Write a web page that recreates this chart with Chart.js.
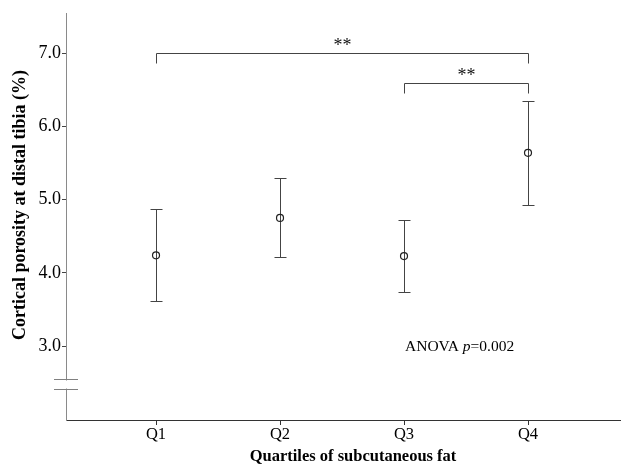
<!DOCTYPE html>
<html>
<head>
<meta charset="utf-8">
<script src="https://cdn.jsdelivr.net/npm/chart.js@4"></script>
<style>
html,body{margin:0;padding:0;background:#fff}
</style>
</head>
<body>
<canvas id="myChart" width="621" height="466"></canvas>
<script>
// data
const QUARTILES = ['Q1', 'Q2', 'Q3', 'Q4']
const QUARTILE_POS = [1, 2, 3, 4]
const MEANS = [4.24, 4.75, 4.23, 5.64]
const UPPER = [4.87, 5.29, 4.72, 6.35]
const LOWER = [3.61, 4.21, 3.74, 4.93]
const Y_TICKS = [3, 4, 5, 6, 7]
// significance brackets: from, to, level, mark
const BRACKET_FROM = [1, 3]
const BRACKET_TO = [4, 4]
const BRACKET_LEVEL = [7.0, 6.6]
const BRACKET_MARK = ['**', '**']
const ANOVA_P = '0.002'
const X_TITLE = 'Quartiles of subcutaneous fat'
const Y_TITLE = 'Cortical porosity at distal tibia (%)'

const SERIF = "'Liberation Serif', 'Times New Roman', serif"
const BAR_COLOR = '#444'

// error bars, brackets, axis break, anova note, axis titles
const extras = {
  id: 'extras',
  beforeDatasetsDraw(chart) {
    const ctx = chart.ctx
    const x = chart.scales.x
    const y = chart.scales.y
    ctx.save()
    ctx.strokeStyle = BAR_COLOR
    ctx.lineWidth = 1
    for (var i = 0; i < MEANS.length; i++) {
      var px = Math.round(x.getPixelForValue(QUARTILE_POS[i])) + 0.5
      var top = Math.round(y.getPixelForValue(UPPER[i])) + 0.5
      var bot = Math.round(y.getPixelForValue(LOWER[i])) + 0.5
      ctx.beginPath()
      ctx.moveTo(px, top); ctx.lineTo(px, bot)
      ctx.moveTo(px - 6, top); ctx.lineTo(px + 6, top)
      ctx.moveTo(px - 6, bot); ctx.lineTo(px + 6, bot)
      ctx.stroke()
    }
    ctx.restore()
  },
  afterDraw(chart) {
    const ctx = chart.ctx
    const x = chart.scales.x
    const y = chart.scales.y
    ctx.save()
    // brackets
    ctx.strokeStyle = BAR_COLOR
    ctx.lineWidth = 1
    ctx.fillStyle = '#111'
    ctx.font = '18px ' + SERIF
    ctx.textAlign = 'center'
    ctx.textBaseline = 'middle'
    for (var i = 0; i < BRACKET_FROM.length; i++) {
      var x1 = Math.round(x.getPixelForValue(BRACKET_FROM[i])) + 0.5
      var x2 = Math.round(x.getPixelForValue(BRACKET_TO[i])) + 0.5
      var by = Math.round(y.getPixelForValue(BRACKET_LEVEL[i])) + 0.5
      ctx.beginPath()
      ctx.moveTo(x1, by + 10); ctx.lineTo(x1, by); ctx.lineTo(x2, by); ctx.lineTo(x2, by + 10)
      ctx.stroke()
      ctx.fillText(BRACKET_MARK[i], (x1 + x2) / 2, by - 7)
    }
    // axis break
    var b1 = Math.round(y.getPixelForValue(2.55)) + 0.5
    var b2 = Math.round(y.getPixelForValue(2.41)) + 0.5
    var ax = x.left
    ctx.fillStyle = '#fff'
    ctx.fillRect(ax - 3, b1 + 1, 6, b2 - b1 - 2)
    ctx.strokeStyle = '#808080'
    ctx.beginPath()
    ctx.moveTo(ax - 12, b1); ctx.lineTo(ax + 12, b1)
    ctx.moveTo(ax - 12, b2); ctx.lineTo(ax + 12, b2)
    ctx.stroke()
    // ANOVA note
    ctx.fillStyle = '#000'
    ctx.textAlign = 'left'
    ctx.textBaseline = 'middle'
    var tx = x.getPixelForValue(3) + 1
    var ty = y.getPixelForValue(3.0) + 1
    ctx.font = '15.5px ' + SERIF
    ctx.fillText('ANOVA ', tx, ty)
    tx += ctx.measureText('ANOVA ').width
    ctx.font = 'italic 15.5px ' + SERIF
    ctx.fillText('p', tx, ty)
    tx += ctx.measureText('p').width
    ctx.font = '15.5px ' + SERIF
    ctx.fillText('=' + ANOVA_P, tx, ty)
    // axis titles (placed like the original, a bit off-centre)
    ctx.textAlign = 'center'
    ctx.font = 'bold 16.5px ' + SERIF
    ctx.fillText(X_TITLE, 353, 457)
    ctx.translate(20, 205)
    ctx.rotate(-Math.PI / 2)
    ctx.font = 'bold 18px ' + SERIF
    ctx.fillText(Y_TITLE, 0, 0)
    ctx.restore()
  }
}

var points = []
for (var i = 0; i < MEANS.length; i++) points.push({x: QUARTILE_POS[i], y: MEANS[i]})

var myChart = new Chart(document.getElementById('myChart').getContext('2d'), {
  type: 'scatter',
  data: {
    datasets: [{
      data: points,
      pointRadius: 3.5,
      pointBorderWidth: 1.2,
      pointBorderColor: '#222',
      pointBackgroundColor: 'rgba(0,0,0,0)',
      showLine: false,
      clip: false
    }]
  },
  plugins: [extras],
  options: {
    responsive: false,
    animation: false,
    devicePixelRatio: 1,
    layout: {autoPadding: false, padding: {top: 13, left: 0, right: 0, bottom: 0}},
    plugins: {legend: {display: false}, tooltip: {enabled: false}},
    scales: {
      x: {
        type: 'linear',
        min: 0.274,
        max: 4.75,
        afterBuildTicks: function (s) { s.ticks = QUARTILE_POS.map(v => ({value: v})) },
        afterFit: function (s) { s.height = 46; s.paddingLeft = 0; s.paddingRight = 0 },
        ticks: {
          callback: function (v) { return QUARTILES[QUARTILE_POS.indexOf(v)] },
          font: {family: SERIF, size: 16.5},
          color: '#000',
          padding: 0,
          maxRotation: 0,
          autoSkip: false
        },
        grid: {drawOnChartArea: false, tickLength: 5, color: '#333'},
        border: {color: '#333', width: 1}
      },
      y: {
        min: 1.99,
        max: 7.55,
        afterBuildTicks: function (s) { s.ticks = Y_TICKS.map(v => ({value: v})) },
        afterFit: function (s) { s.width = 66; s.paddingTop = 0; s.paddingBottom = 0 },
        ticks: {
          callback: function (v) { return v.toFixed(1) },
          font: {family: SERIF, size: 18},
          color: '#000',
          padding: 1
        },
        grid: {drawOnChartArea: false, tickLength: 4, color: '#444'},
        border: {color: '#8a8a8a', width: 1}
      }
    }
  }
})
</script>
</body>
</html>
